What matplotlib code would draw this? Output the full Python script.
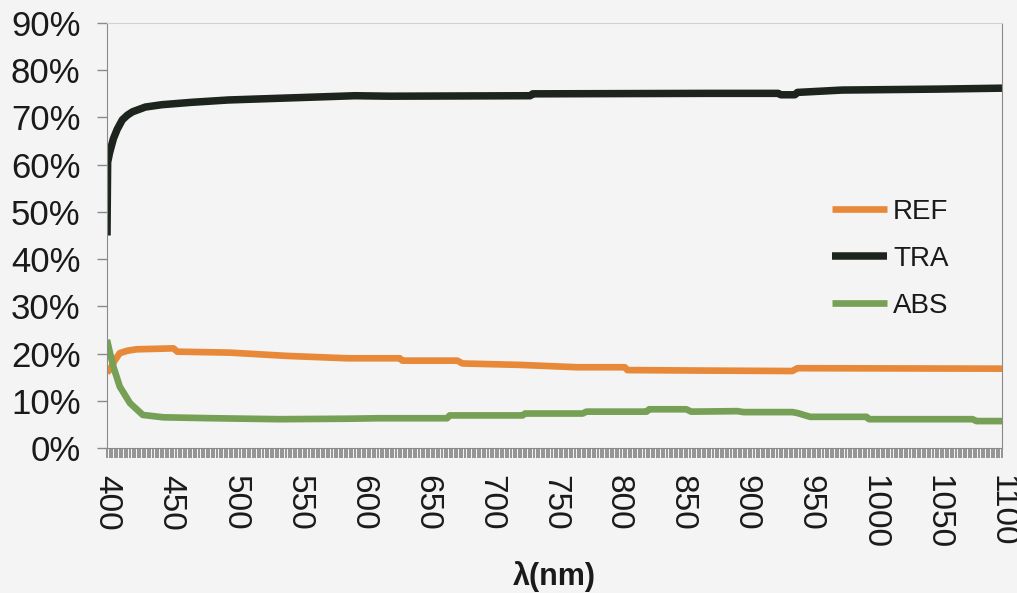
import matplotlib
matplotlib.use('Agg')
import matplotlib.pyplot as plt
import matplotlib.ticker as mticker
import numpy as np

plt.rcParams['font.family'] = ['Liberation Sans', 'DejaVu Sans']

# spectra (wavelength in nm, value in %)
tra_wl = [400, 400.5, 402, 405, 408, 412, 416, 420, 424, 430, 443, 466, 495, 539, 594, 621,
          731, 733, 871, 925, 927, 938, 940, 975, 1050, 1100]
tra = [45, 60.5, 62.5, 65.5, 67.5, 69.5, 70.5, 71.2, 71.6, 72.2, 72.7, 73.2, 73.7, 74.1, 74.6, 74.5,
       74.6, 75.0, 75.1, 75.1, 74.8, 74.8, 75.3, 75.8, 76.0, 76.2]

ref_wl = [400, 402, 406, 410, 416, 423, 452, 455, 496, 541, 588, 629, 631, 674, 678, 723,
          768, 805, 807, 864, 936, 940, 1100]
ref = [16.0, 16.5, 18.5, 20.1, 20.6, 20.9, 21.1, 20.4, 20.2, 19.5, 19.0, 19.0, 18.5, 18.5, 17.9, 17.6,
       17.1, 17.1, 16.5, 16.4, 16.3, 16.9, 16.8]

abs_wl = [400, 402, 405, 410, 418, 428, 444, 483, 535, 588, 613, 666, 668, 725, 727, 772, 775,
          822, 824, 853, 857, 893, 898, 936, 940, 950, 994, 996, 1077, 1080, 1100]
absorb = [22.9, 20.5, 17.2, 13.0, 9.5, 7.0, 6.5, 6.3, 6.1, 6.2, 6.3, 6.3, 6.9, 6.9, 7.3, 7.3, 7.7,
          7.7, 8.2, 8.2, 7.7, 7.8, 7.6, 7.6, 7.4, 6.6, 6.6, 6.1, 6.1, 5.7, 5.7]

bg = '#f4f4f4'
fig = plt.figure(figsize=(10.17, 5.93), dpi=100, facecolor=bg)
ax = fig.add_axes([107/1017, 1 - 448/593, (1002 - 107)/1017, (448 - 23)/593])
ax.set_facecolor(bg)

ax.plot(ref_wl, np.array(ref)/100, color='#e8893a', lw=4.8, label='REF', solid_capstyle='butt')
ax.plot(tra_wl, np.array(tra)/100, color='#1d231d', lw=5.4, label='TRA', solid_capstyle='butt')
ax.plot(abs_wl, np.array(absorb)/100, color='#76a055', lw=4.8, label='ABS', solid_capstyle='butt')

ax.set_xlim(400, 1100)
ax.set_ylim(0, 0.9)
ax.yaxis.set_major_locator(mticker.MultipleLocator(0.1))
ax.yaxis.set_major_formatter(mticker.PercentFormatter(1.0, decimals=0))
ax.xaxis.set_major_locator(mticker.MultipleLocator(50))
ax.xaxis.set_minor_locator(mticker.MultipleLocator(2))

ax.tick_params(axis='y', labelsize=25, length=7, width=1, color='#8a8a8a', pad=12, labelcolor='#1a1a1a')
ax.tick_params(axis='x', which='both', length=7.5, width=1.1, color='#7a7a7a')
ax.tick_params(axis='x', labelsize=24, pad=12, labelcolor='#1a1a1a', labelrotation=270)
for lab in ax.get_xticklabels():
    lab.set_va('top')
    lab.set_ha('center')

for side in ['left', 'bottom', 'right']:
    ax.spines[side].set_color('#8a8a8a')
ax.spines['top'].set_color('#d2d2d2')

# axis title sits in the bottom margin under the rotated tick labels
fig.text(554/1017, 1 - 577/593, 'λ(nm)', fontsize=22, fontweight='bold', color='#1a1a1a',
         ha='center', va='center')

leg = ax.legend(loc='upper left', bbox_to_anchor=(818/1017, 1 - 185/593),
                bbox_transform=fig.transFigure, frameon=False, fontsize=20,
                handlelength=2.0, handletextpad=0.2, labelspacing=0.75, borderpad=0)
for t in leg.get_texts():
    t.set_color('#1a1a1a')

fig.savefig('out.png', dpi=100, facecolor=bg)
